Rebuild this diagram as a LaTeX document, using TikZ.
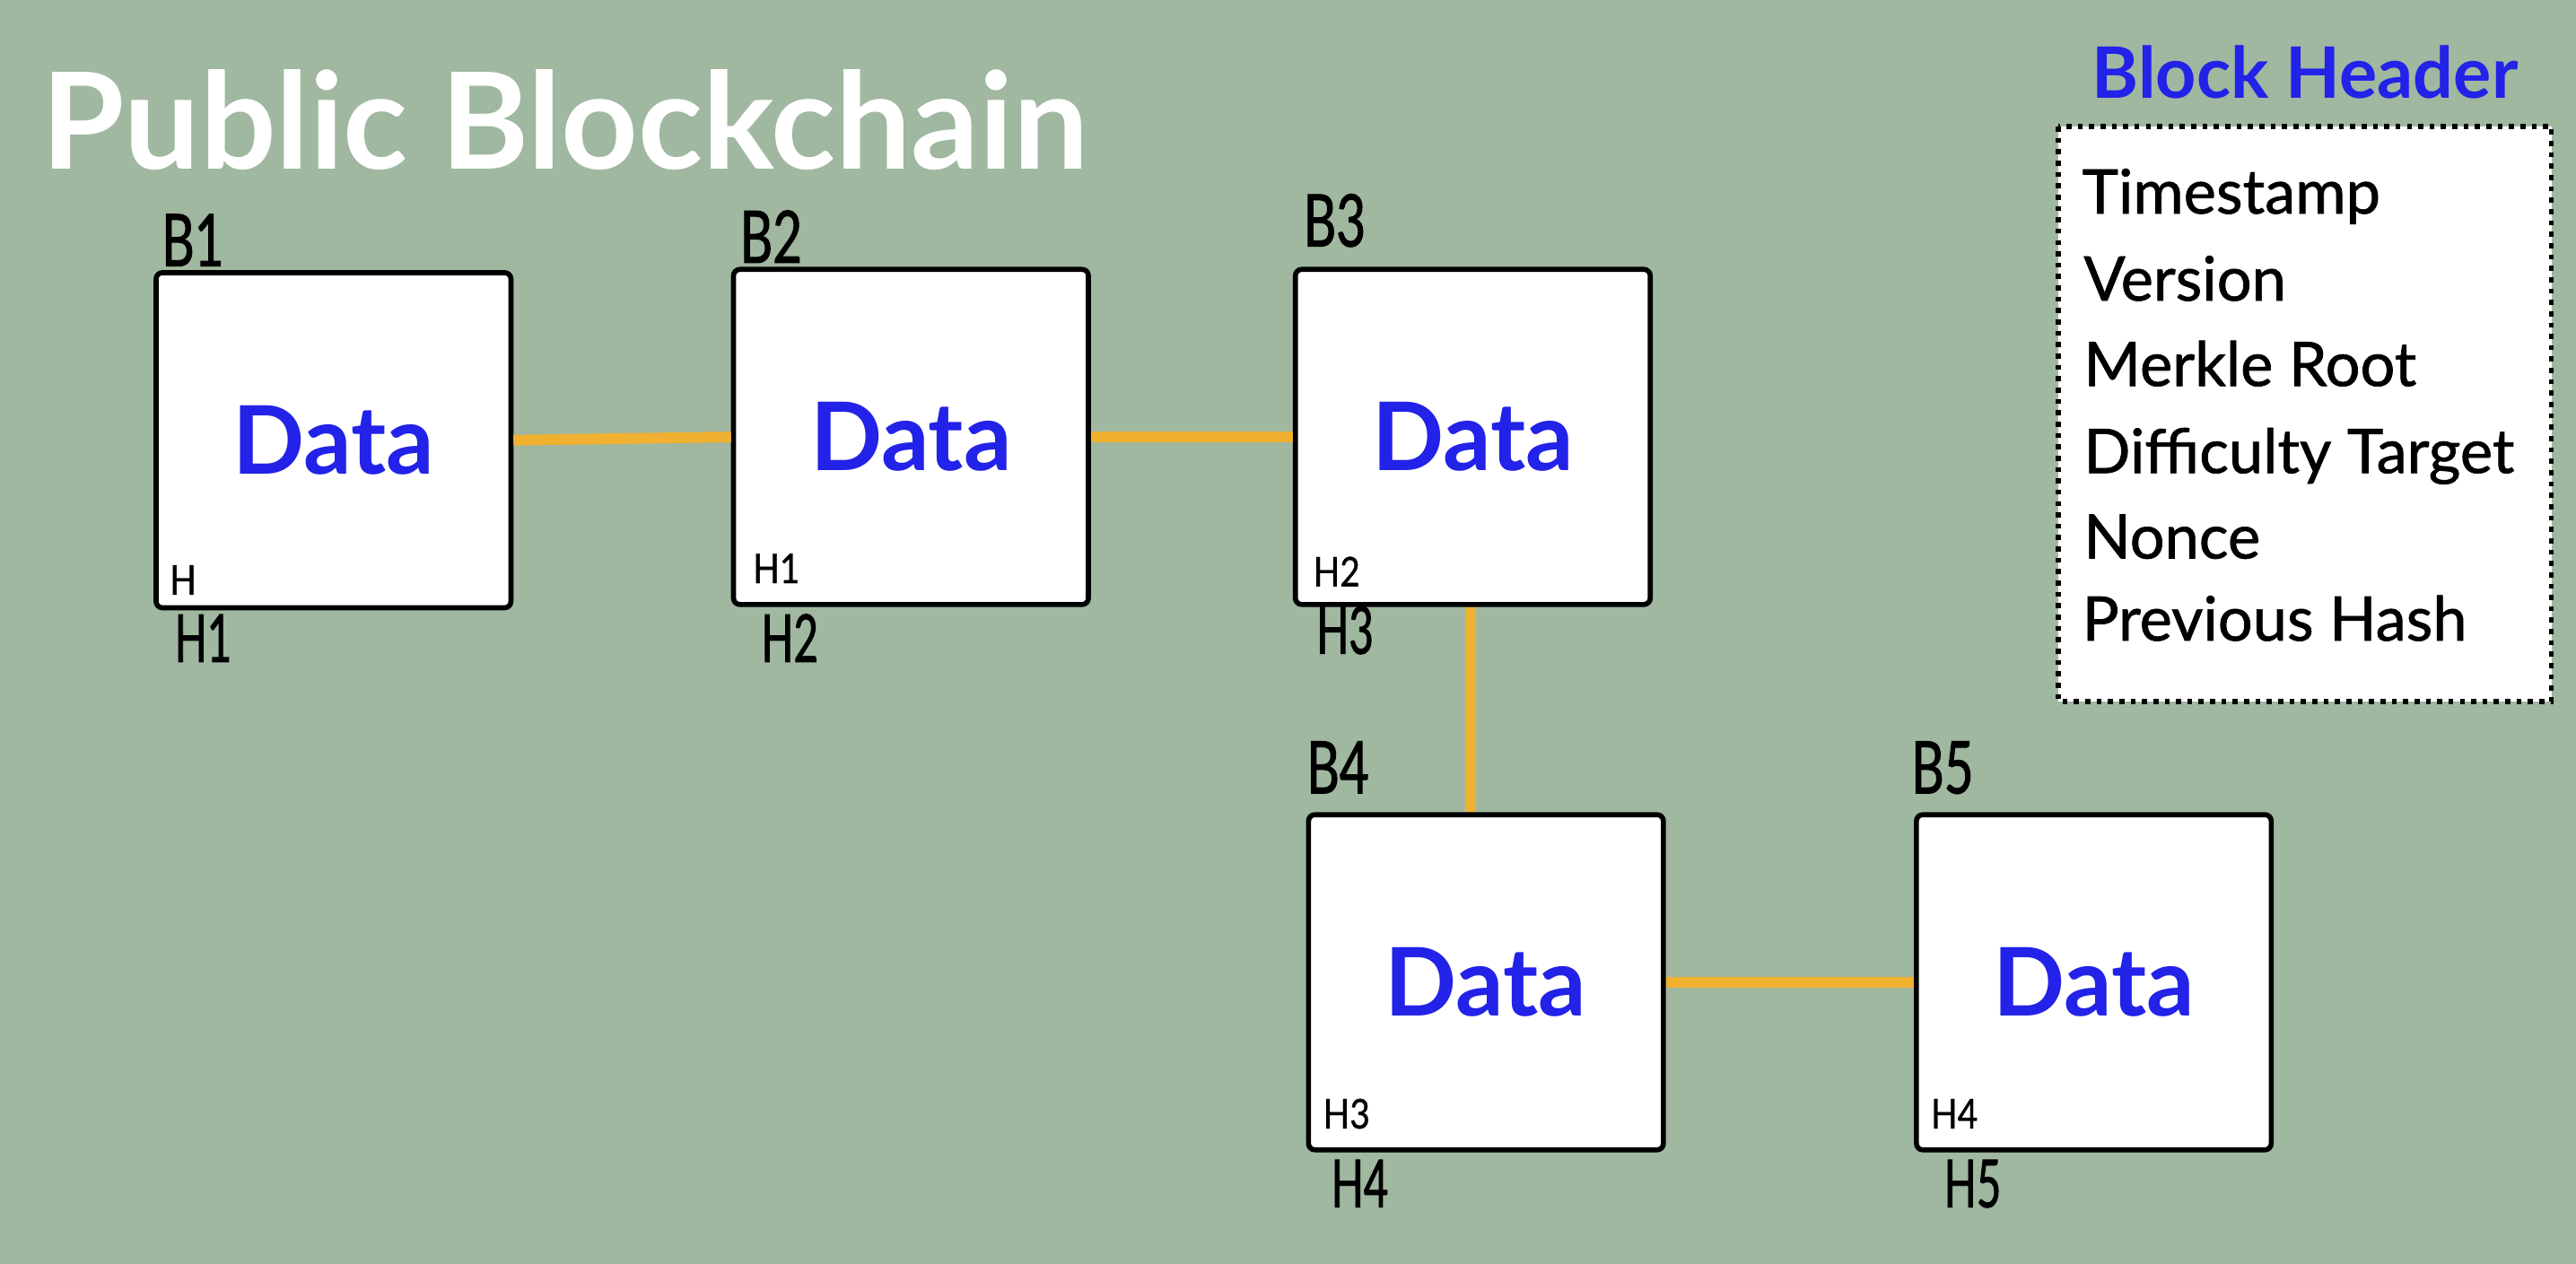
\documentclass[tikz,border=0pt]{standalone}
\usepackage{fontspec}
\setmainfont{Lato}
\newfontfamily\condfont{Lato}[FakeStretch=0.70,FakeBold=1.2]
\newfontfamily\condfontb{Lato}[FakeStretch=0.64,FakeBold=1.2]
\newfontfamily\semifont{Lato}[FakeStretch=0.85,FakeBold=0.8]
\newfontfamily\itemfont{Lato}[FakeBold=1]
\definecolor{bg}{RGB}{160,183,160}
\definecolor{linkc}{RGB}{240,176,48}
\definecolor{datablue}{RGB}{34,34,232}
\begin{document}
\begin{tikzpicture}[x=0.01831cm,y=-0.01831cm,
  block/.style={draw=black,line width=1.6pt,fill=white,rounded corners=2pt,
    minimum width={216*0.01831cm},minimum height={204*0.01831cm},inner sep=0pt,
    font=\fontsize{30}{36}\selectfont\bfseries,text=datablue},
  link/.style={draw=linkc,line width=3.4pt},
  blabel/.style={anchor=base west,inner sep=0pt,font=\condfont\fontsize{23}{27}\selectfont},
  hin/.style={anchor=base west,inner sep=0pt,font=\semifont\fontsize{13}{15}\selectfont},
  hout/.style={anchor=base west,inner sep=0pt,font=\condfontb\fontsize{21}{25}\selectfont},
  item/.style={anchor=base west,inner sep=0pt,font=\itemfont\fontsize{19.5}{23}\selectfont}]
\fill[bg] (0,0) rectangle (1568,769.5);
\useasboundingbox (0,0) rectangle (1568,769.5);
\node[anchor=base west,inner sep=0pt,text=white,font=\fontsize{42.5}{50}\selectfont\bfseries] (title) at (25,103) {Public Blockchain};
% blocks
\node[block] (b1) at (203,268) {Data};
\node[block] (b2) at (554.5,266) {Data};
\node[block] (b3) at (896.5,266) {Data};
\node[block] (b4) at (904.5,598) {Data};
\node[block] (b5) at (1274.5,598) {Data};
% links
\draw[link] (b1.east) -- (b2.west);
\draw[link] (b2.east) -- (b3.west);
\draw[link] ([xshift={-1.5*0.01831cm}]b3.south) -- ([xshift={-1.5*0.01831cm}]b3.south |- b4.north);
\draw[link] (b4.east) -- (b5.west);
% block labels
\node[blabel] (l1) at (98,162) {B1};
\node[blabel] (l2) at (450,160) {B2};
\node[blabel] (l3) at (793,150) {B3};
\node[blabel] (l4) at (795,483) {B4};
\node[blabel] (l5) at (1163,483) {B5};
% inner hashes
\node[hin] (i1) at (103,362) {H};
\node[hin] (i2) at (458,355) {H1};
\node[hin] (i3) at (799,357) {H2};
\node[hin] (i4) at (805,687) {H3};
\node[hin] (i5) at (1175,687) {H4};
% outer hashes
\node[hout] (o1) at (106,403) {H1};
\node[hout] (o2) at (463,403) {H2};
\node[hout] (o3) at (801,398) {H3};
\node[hout] (o4) at (810,735) {H4};
\node[hout] (o5) at (1183,735) {H5};
% header
\node[anchor=base,inner sep=0pt,text=datablue,font=\fontsize{22.5}{27}\selectfont\bfseries] (ht) at (1403,60) {Block Header};
\draw[black,line width=1.6pt,dotted,fill=white] (1253,77) rectangle (1553,427);
\node[item] (t1) at (1267,130) {Timestamp};
\node[item] (t2) at (1268,183) {Version};
\node[item] (t3) at (1268,235) {Merkle Root};
\node[item] (t4) at (1268,288) {Difficulty Target};
\node[item] (t5) at (1268,340) {Nonce};
\node[item] (t6) at (1267,390) {Previous Hash};
\end{tikzpicture}
\end{document}
